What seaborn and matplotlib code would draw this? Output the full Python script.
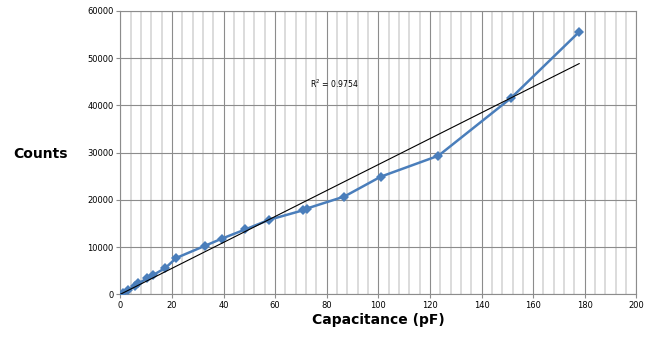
"""Counts vs capacitance with linear trendline"""
import numpy as np
import pandas as pd
import seaborn as sns
import matplotlib.pyplot as plt
from matplotlib.ticker import MultipleLocator

capacitance = [1, 3, 5.5, 7, 10.5, 12.5, 17.5, 21.7, 32.7, 39.4, 48.5, 57.8,
               70.9, 72.2, 86.8, 100.9, 123.3, 151.4, 177.9]
counts = [300, 900, 1700, 2300, 3400, 4000, 5600, 7700, 10250, 11800, 13750,
          15800, 17800, 18150, 20700, 24900, 29350, 41550, 55600]
r2_label = 'R$^2$ = 0.9754'

df = pd.DataFrame({'cap': capacitance, 'counts': counts})

# trendline forced through the origin
x = df['cap'].to_numpy()
slope = (x * df['counts']).sum() / (x * x).sum()
fit = pd.DataFrame({'cap': [0, x.max()], 'counts': [0, slope * x.max()]})

sns.set_style('white')
plt.rcParams['text.color'] = 'black'
plt.rcParams['axes.labelcolor'] = 'black'
plt.rcParams['xtick.color'] = 'black'
plt.rcParams['ytick.color'] = 'black'

fig, ax = plt.subplots(figsize=(6.54, 3.43), dpi=100)
fig.subplots_adjust(left=0.184, right=0.973, top=0.968, bottom=0.142)

sns.lineplot(data=df, x='cap', y='counts', ax=ax, color='#4a7ebb', lw=1.8,
             marker='D', markersize=5.5, markeredgewidth=0, zorder=3)
sns.lineplot(data=fit, x='cap', y='counts', ax=ax, color='black', lw=0.8,
             zorder=4)

ax.set_xlim(0, 200)
ax.set_ylim(0, 60000)
ax.xaxis.set_major_locator(MultipleLocator(20))
ax.xaxis.set_minor_locator(MultipleLocator(4))
ax.yaxis.set_major_locator(MultipleLocator(10000))
ax.grid(True, which='major', axis='both', color='#8c8c8c', lw=0.8)
ax.grid(True, which='minor', axis='x', color='#d6d6d6', lw=1.2)
ax.set_axisbelow(True)
for s in ax.spines.values():
    s.set_color('#8c8c8c')
    s.set_linewidth(0.8)

ax.tick_params(axis='both', which='major', labelsize=6, length=3,
               color='#8c8c8c', labelcolor='black', pad=2,
               left=True, bottom=True)
ax.tick_params(axis='x', which='minor', length=0)

ax.set_xlabel('Capacitance (pF)', fontsize=10, fontweight='bold', labelpad=2)
ax.set_ylabel('Counts', fontsize=10, fontweight='bold', rotation=0,
              labelpad=0)
ax.yaxis.set_label_coords(-0.155, 0.47)

ax.text(73.5, 44500, r2_label, fontsize=5.5, va='center')

plt.savefig('out.png', dpi=100)
